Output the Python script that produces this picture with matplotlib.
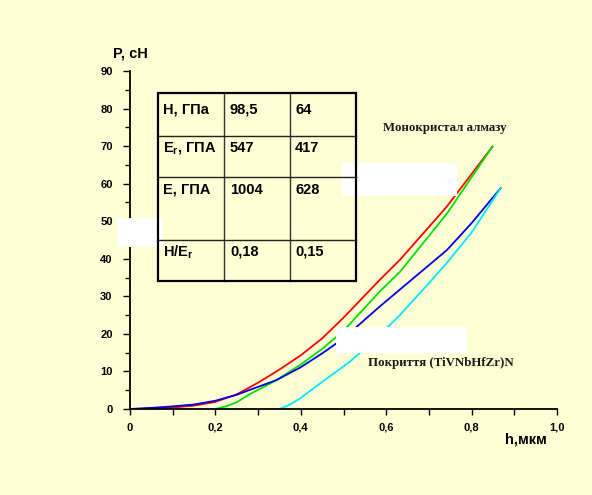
import matplotlib.pyplot as plt
from matplotlib.patches import Rectangle
from matplotlib.lines import Line2D
from matplotlib.ticker import MultipleLocator, FuncFormatter

plt.rcParams['font.family'] = ['Liberation Sans', 'DejaVu Sans']
plt.rcParams['mathtext.fontset'] = 'custom'
plt.rcParams['mathtext.rm'] = 'Liberation Sans:bold'
plt.rcParams['mathtext.default'] = 'rm'

# loading curves, h in мкм, P in сН
red_h = [0, 0.05, 0.1, 0.15, 0.2, 0.25, 0.3, 0.35, 0.4, 0.45, 0.5, 0.585, 0.632, 0.742, 0.849]
red_P = [0, 0.15, 0.4, 0.9, 1.9, 3.9, 7.0, 10.5, 14.3, 18.8, 24.3, 34.4, 39.7, 53.9, 69.9]

green_h = [0.2, 0.225, 0.25, 0.281, 0.312, 0.343, 0.398, 0.45, 0.5, 0.585, 0.632, 0.742, 0.849]
green_P = [0, 0.7, 1.8, 4.0, 5.8, 7.7, 11.7, 16.0, 20.8, 31.3, 36.5, 52.0, 69.9]

blue_h = [0, 0.05, 0.1, 0.15, 0.2, 0.25, 0.3, 0.343, 0.398, 0.45, 0.5, 0.585, 0.632, 0.742, 0.8, 0.868]
blue_P = [0, 0.3, 0.7, 1.2, 2.2, 3.8, 5.9, 7.7, 11.0, 14.8, 18.8, 27.3, 31.8, 42.3, 49.5, 58.8]

cyan_h = [0.35, 0.375, 0.398, 0.45, 0.515, 0.585, 0.632, 0.7, 0.742, 0.8, 0.868]
cyan_P = [0, 1.2, 2.8, 7.2, 12.6, 19.7, 25.0, 33.5, 38.9, 47.0, 58.8]

# table contents
table_rows = [
    ['H, ГПа', '98,5', '64'],
    ['E$_{r}$, ГПА', '547', '417'],
    ['E, ГПА', '1004', '628'],
    ['H/E$_{r}$', '0,18', '0,15'],
]

bg = '#FFFFD6'
W, H = 592, 495


def fx(x):
    return x / W


def fy(y):
    return 1 - y / H


fig = plt.figure(figsize=(5.92, 4.95), dpi=100, facecolor=bg)
ax = fig.add_axes([fx(130), fy(409), fx(557) - fx(130), fy(71) - fy(409)])
ax.set_facecolor(bg)

ax.plot(red_h, red_P, color='#FF0000', lw=1.3)
ax.plot(green_h, green_P, color='#00E000', lw=1.3)
ax.plot(blue_h, blue_P, color='#0000E6', lw=1.3)
ax.plot(cyan_h, cyan_P, color='#00E8FF', lw=1.3)

ax.set_xlim(0, 1.0)
ax.set_ylim(0, 90)
for s in ['top', 'right']:
    ax.spines[s].set_visible(False)
for s in ['left', 'bottom']:
    ax.spines[s].set_linewidth(1.3)
ax.xaxis.set_major_locator(MultipleLocator(0.2))
ax.xaxis.set_minor_locator(MultipleLocator(0.1))
ax.yaxis.set_major_locator(MultipleLocator(10))
ax.yaxis.set_minor_locator(MultipleLocator(5))
ax.xaxis.set_major_formatter(FuncFormatter(lambda v, p: '0' if v == 0 else f'{v:.1f}'.replace('.', ',')))
ax.tick_params(axis='x', which='both', length=4, width=1, direction='out')
ax.tick_params(axis='y', which='major', length=5, width=1, direction='out')
ax.tick_params(axis='y', which='minor', length=3.5, width=1, direction='out')
ax.tick_params(axis='x', pad=6)
ax.tick_params(axis='y', pad=7.5)
for lab in ax.get_xticklabels() + ax.get_yticklabels():
    lab.set_fontsize(8)
    lab.set_fontweight('bold')

fig.text(fx(113), fy(53), 'P, сН', fontsize=10.5, fontweight='bold', va='center', ha='left')
fig.text(fx(547), fy(440), 'h,мкм', fontsize=10.5, fontweight='bold', va='center', ha='right')

fig.text(fx(445), fy(128), 'Монокристал алмазу', family='Liberation Serif',
         fontsize=9.3, fontweight='bold', ha='center', va='center', color='#1a1a1a', zorder=5)
fig.text(fx(441), fy(363), 'Покриття (TiVNbHfZr)N', family='Liberation Serif',
         fontsize=9.3, fontweight='bold', ha='center', va='center', color='#1a1a1a', zorder=5)

# white patches present in the source image
for x0, y0, x1, y1 in [(117, 218, 163, 247), (342, 163, 457, 196), (336, 327, 467, 353)]:
    fig.add_artist(Rectangle((fx(x0), fy(y1)), fx(x1) - fx(x0), fy(y0) - fy(y1),
                             transform=fig.transFigure, facecolor='white', edgecolor='none', zorder=2))

# table
cols = [158, 224, 290, 356]
rows = [93, 136, 177, 240, 281]
text_y = [110, 148, 190, 252]
text_x = [163, 230, 295]
for x in cols[1:-1]:
    fig.add_artist(Line2D([fx(x), fx(x)], [fy(rows[0]), fy(rows[-1])], transform=fig.transFigure,
                          color='#333333', lw=1, zorder=3))
for y in rows[1:-1]:
    fig.add_artist(Line2D([fx(cols[0]), fx(cols[-1])], [fy(y), fy(y)], transform=fig.transFigure,
                          color='#222222', lw=1, zorder=3))
fig.add_artist(Rectangle((fx(cols[0]), fy(rows[-1])), fx(cols[-1]) - fx(cols[0]), fy(rows[0]) - fy(rows[-1]),
                         transform=fig.transFigure, facecolor='none', edgecolor='black', lw=1.6, zorder=4))
for r, row in enumerate(table_rows):
    for c, val in enumerate(row):
        fig.text(fx(text_x[c]), fy(text_y[r]), val, fontsize=10.5, fontweight='bold',
                 ha='left', va='center', zorder=5)

fig.savefig('out.png', dpi=100, facecolor=bg)
